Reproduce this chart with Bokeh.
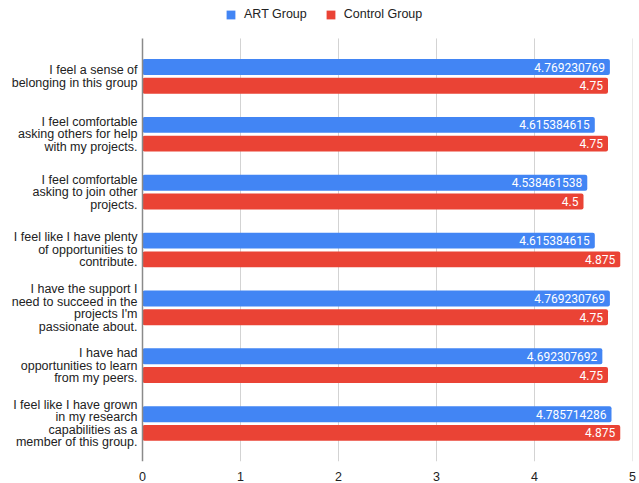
from bokeh.plotting import figure
from bokeh.models import (ColumnDataSource, Range1d, FixedTicker, Legend, LegendItem)
from bokeh.core.properties import value
from bokeh.embed import file_html
from bokeh.resources import INLINE

categories = [
    "I feel a sense of\nbelonging in this group",
    "I feel comfortable\nasking others for help\nwith my projects.",
    "I feel comfortable\nasking to join other\nprojects.",
    "I feel like I have plenty\nof opportunities to\ncontribute.",
    "I have the support I\nneed to succeed in the\nprojects I'm\npassionate about.",
    "I have had\nopportunities to learn\nfrom my peers.",
    "I feel like I have grown\nin my research\ncapabilities as a\nmember of this group.",
]
art_group = [4.769230769, 4.615384615, 4.538461538, 4.615384615, 4.769230769, 4.692307692, 4.785714286]
control_group = [4.75, 4.75, 4.5, 4.875, 4.75, 4.75, 4.875]
x_ticks = [0, 1, 2, 3, 4, 5]

BLUE = "#4285F4"
RED = "#EA4335"
FONT = "Liberation Sans"
NUM_FONT = "Roboto"
TXT = "#222222"
LINE_PX = 12.5

n = len(categories)
centers = [n - i for i in range(n)]
dodge = 0.162
bar_h = 0.275
y_lo, y_hi = 0.344, n + 0.656
y_top = y_hi + 0.656          # room above the plot for the legend
x_left = -1.449               # room left of the plot for category labels

src_art = ColumnDataSource(dict(
    y=[c + dodge for c in centers], x=art_group,
    label=[str(v) for v in art_group]))
src_ctl = ColumnDataSource(dict(
    y=[c - dodge for c in centers], x=control_group,
    label=[str(v) for v in control_group]))

# one text entry per label line, so each line is right-aligned
cat_y, cat_text, cat_off = [], [], []
for c, lab in zip(centers, categories):
    lines = lab.split("\n")
    m = len(lines)
    for j, ln in enumerate(lines):
        cat_y.append(c)
        cat_text.append(ln)
        cat_off.append((j - (m - 1) / 2) * LINE_PX)
src_cat = ColumnDataSource(dict(y=cat_y, label=cat_text, off=cat_off,
                                x=[0] * len(cat_y)))

p = figure(width=639, height=483, output_backend="svg", toolbar_location=None,
           x_range=Range1d(x_left, x_ticks[-1]), y_range=Range1d(y_lo, y_top),
           min_border_left=0, min_border_right=7, min_border_top=0,
           min_border_bottom=21)
p.outline_line_color = None
p.background_fill_color = "white"

# vertical grid lines limited to the plot area
p.segment(x0=x_ticks[1:], x1=x_ticks[1:], y0=y_lo, y1=y_hi,
          line_color="#d3d3d3", line_width=1)

r_art = p.hbar(y="y", right="x", left=0, height=bar_h, source=src_art,
               fill_color=BLUE, line_color=None, border_radius=2)
r_ctl = p.hbar(y="y", right="x", left=0, height=bar_h, source=src_ctl,
               fill_color=RED, line_color=None, border_radius=2)

# baseline (category axis line)
p.segment(x0=0, x1=0, y0=y_lo, y1=y_hi, line_color="#8a8a8a", line_width=1.5)

for src in (src_art, src_ctl):
    p.text(x="x", y="y", text="label", source=src, text_align="right",
           text_baseline="middle", x_offset=-5, text_color="white",
           text_font=value(NUM_FONT), text_font_size="12px")

# category labels
p.text(x="x", y="y", text="label", source=src_cat, text_align="right",
       text_baseline="middle", x_offset=-5, y_offset="off", text_color=TXT,
       text_font=value(FONT), text_font_size="12.5px")

# x axis
p.xaxis.ticker = FixedTicker(ticks=x_ticks)
p.xaxis.axis_line_color = None
p.xaxis.major_tick_line_color = None
p.xaxis.minor_tick_line_color = None
p.xaxis.major_label_text_font = FONT
p.xaxis.major_label_text_font_size = "12.5px"
p.xaxis.major_label_text_color = TXT
p.xaxis.major_label_standoff = 4

p.yaxis.visible = False
p.xgrid.grid_line_color = None
p.ygrid.grid_line_color = None

legend = Legend(items=[LegendItem(label="ART Group", renderers=[r_art]),
                       LegendItem(label="Control Group", renderers=[r_ctl])],
                orientation="horizontal", location=(225, 440),
                padding=0, margin=0, spacing=18, glyph_width=11, glyph_height=11,
                label_standoff=8, label_height=11, label_text_font=FONT,
                label_text_font_size="12.5px", label_text_color=TXT,
                border_line_color=None, background_fill_alpha=0)
p.add_layout(legend, "center")

open("out.html", "w").write(file_html(p, INLINE))
